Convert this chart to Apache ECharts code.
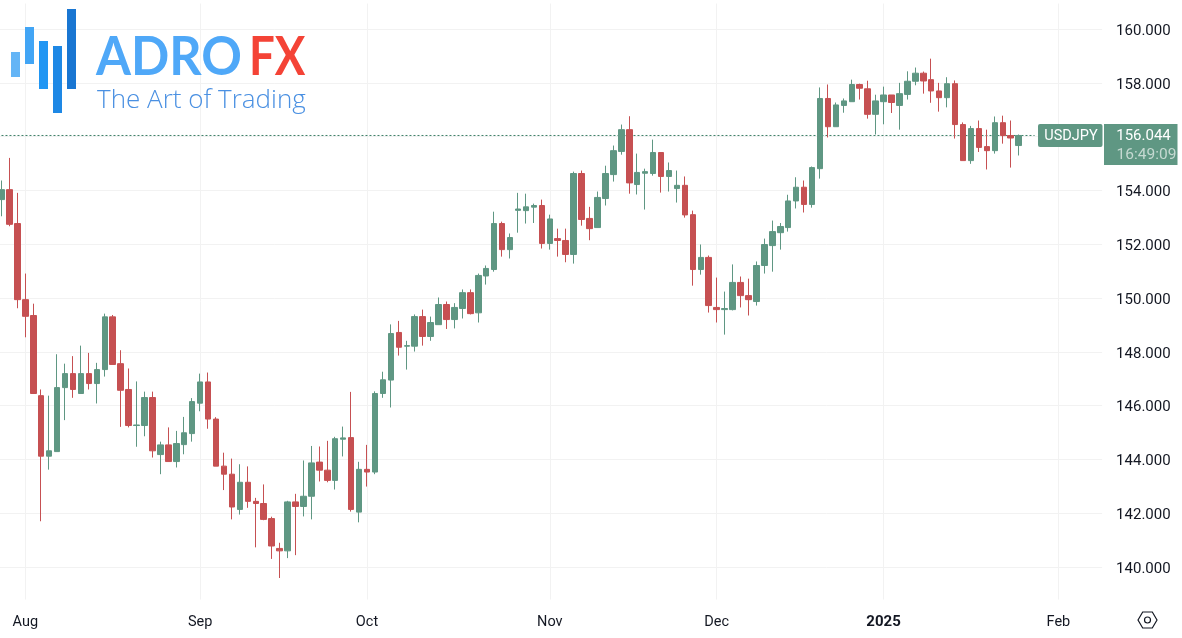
<!DOCTYPE html>
<html>
<head>
<meta charset="utf-8">
<title>USDJPY</title>
<script src="https://cdn.jsdelivr.net/npm/echarts@6/dist/echarts.min.js"></script>
<style>
    html, body { margin: 0; padding: 0; background: #fff; }
    #chart { width: 1182px; height: 638px; }
</style>
</head>
<body>
<div id="chart"></div>
<script>
// Daily candles, 29 Jul 2024 to 27 Jan 2025
const opens = [
    153.66,154.03,152.77,149.94,149.35,146.37,144.12,144.29,146.67,147.19,
    146.45,147.19,146.82,147.34,149.30,147.56,146.60,145.26,145.26,146.30,
    144.18,144.54,143.92,144.55,144.96,146.09,146.88,145.50,143.75,143.45,
    142.14,143.15,142.44,142.36,141.80,140.69,140.60,142.42,142.25,142.63,
    143.90,143.60,143.22,144.75,144.81,142.04,143.63,143.53,146.45,146.95,
    148.72,148.21,148.21,149.31,148.57,149.01,149.76,149.20,149.61,150.20,
    149.45,150.82,151.06,152.77,151.80,153.26,153.25,153.38,153.44,152.03,
    152.21,152.14,151.62,154.63,152.96,152.62,153.70,154.59,155.45,156.26,
    154.22,154.64,154.63,155.41,154.52,154.07,154.19,153.10,151.06,151.51,
    149.65,149.57,149.57,150.58,150.09,149.87,151.21,151.95,152.43,152.62,
    153.61,154.12,153.48,154.81,157.42,156.37,157.16,157.30,157.94,157.78,
    156.83,157.30,157.55,157.16,157.57,158.06,158.36,158.12,157.70,157.45,
    157.97,156.45,155.11,156.30,155.63,155.48,156.52,156.04,155.67
];
const closes = [
    154.03,152.74,149.94,149.32,146.45,144.12,144.32,146.67,147.19,146.60,
    147.19,146.82,147.34,149.30,147.53,146.57,145.26,145.28,146.30,144.32,
    144.54,143.92,144.59,144.99,146.15,146.88,145.50,143.75,143.45,142.23,
    143.15,142.44,142.36,141.77,140.78,140.60,142.42,142.25,142.63,143.87,
    143.60,143.22,144.77,144.80,142.14,143.63,143.53,146.45,146.96,148.68,
    148.17,148.23,149.31,148.57,149.09,149.76,149.20,149.65,150.20,149.42,
    150.84,151.10,152.77,151.80,152.25,153.31,153.39,153.44,152.03,152.94,
    152.14,151.62,154.63,152.92,152.58,153.74,154.63,155.48,156.26,154.28,
    154.67,154.70,155.41,154.52,154.74,154.19,153.09,151.06,151.51,149.72,
    149.57,149.61,150.58,150.09,149.94,151.21,151.99,152.47,152.66,153.61,
    154.12,153.48,154.85,157.42,156.37,157.18,157.33,157.94,157.80,156.83,
    157.33,157.55,157.27,157.60,158.06,158.36,158.07,157.70,157.45,157.97,
    156.45,155.11,156.30,155.60,155.48,156.52,156.04,155.95,156.044
];
const lows = [
    153.04,152.67,149.62,148.54,146.45,141.70,143.62,144.29,145.46,146.29,
    146.45,146.60,146.08,147.08,147.53,145.21,145.19,144.47,144.86,144.07,
    143.45,143.92,143.70,144.19,144.66,145.79,145.14,143.75,142.86,141.77,
    141.95,142.20,140.73,141.74,140.30,139.59,140.33,140.44,141.88,141.77,
    143.18,143.15,142.88,144.11,142.06,141.66,142.99,143.45,146.29,145.93,
    147.86,147.34,148.01,148.23,148.41,149.01,148.85,148.87,149.24,149.39,
    149.09,150.50,150.98,151.54,151.47,152.43,152.77,152.79,151.84,151.80,
    151.54,151.33,151.28,152.69,152.15,152.62,153.44,154.33,155.33,153.88,
    153.85,153.29,154.55,153.92,153.96,153.55,152.99,150.46,150.87,149.46,
    149.09,148.64,149.54,149.65,149.35,149.72,150.91,150.98,151.80,152.47,
    153.33,153.18,153.36,154.44,155.97,156.37,156.89,157.30,157.38,156.67,
    156.08,156.46,156.88,156.26,157.38,157.91,157.60,157.26,156.93,157.09,
    155.93,155.11,154.99,155.43,154.78,155.37,155.74,154.85,155.30
];
const highs = [
    154.37,155.21,153.91,150.91,149.79,146.60,146.37,147.91,147.56,147.84,
    148.23,147.96,147.59,149.42,149.37,148.06,147.38,146.90,146.52,146.52,
    144.66,145.19,145.06,145.58,146.28,147.19,147.23,145.57,144.25,144.03,
    143.82,143.74,142.57,143.07,141.87,140.90,142.46,142.72,143.96,144.50,
    144.48,144.69,144.84,145.22,146.51,143.91,144.54,146.53,147.26,149.02,
    149.15,148.41,149.39,149.57,149.31,150.02,149.87,149.81,150.32,150.32,
    150.91,151.21,153.21,152.84,152.40,153.91,153.88,153.51,153.66,153.10,
    152.58,152.58,154.70,154.74,153.39,153.96,154.92,155.67,156.45,156.76,
    155.37,154.81,155.89,155.41,155.04,154.74,154.52,153.25,151.99,151.58,
    150.76,150.24,151.25,150.80,150.72,151.36,152.21,152.88,152.79,153.84,
    154.49,154.37,154.89,157.83,157.94,157.27,157.42,158.12,157.97,158.08,
    157.56,157.86,157.55,158.00,158.43,158.57,158.42,158.90,158.00,158.21,
    158.09,156.53,156.40,156.60,156.26,156.75,156.78,156.60,156.08
];
const lastPrice = 156.044;
const lastLineEnds = [0, 130]; // slots the dotted last price line runs between

// Axis labels
const priceTicks = [140,142,144,146,148,150,152,154,156,158,160];
const tickIndexes = [3,25,46,69,90,111,133];
const tickLabels = ['Aug','Sep','Oct','Nov','Dec','2025','Feb'];
const slotCount = 139; // candles plus the empty days on the right

const green = '#5f9783';
const red = '#c65052';
const textColor = '#131722';
const gridColor = '#f2f2f2';
const fontName = 'Roboto, sans-serif';

const categories = Array.from({ length: slotCount }, (_, i) => {
    const k = tickIndexes.indexOf(i);
    return k >= 0 ? tickLabels[k] : '';
});
const candles = opens.map((o, i) => [o, closes[i], lows[i], highs[i]]);

const chart = echarts.init(document.getElementById('chart'));

const option = {
    animation: false,
    backgroundColor: '#fff',
    grid: { left: -2.5, top: 3.53, width: 1104.6, height: 596, outerBoundsMode: 'none' },
    xAxis: {
        type: 'category',
        data: categories,
        axisLine: { show: false },
        axisTick: { show: false },
        axisLabel: {
            interval: 0,
            margin: 15,
            color: textColor,
            fontFamily: fontName,
            fontSize: 14.5,
            formatter: v => (v === '2025' ? '{b|2025}' : v),
            rich: { b: { fontWeight: 'bold', color: textColor, fontFamily: fontName, fontSize: 15 } }
        },
        splitLine: {
            show: true,
            alignWithLabel: true,
            interval: i => categories[i] !== '',
            lineStyle: { color: gridColor, width: 1 }
        }
    },
    yAxis: {
        type: 'value',
        position: 'right',
        min: 138.79,
        max: 160.95,
        scale: true,
        axisLine: { show: false },
        axisTick: { show: false, customValues: priceTicks },
        axisLabel: {
            customValues: priceTicks,
            margin: 14,
            formatter: v => '{p|' + v.toFixed(3) + '}',
            rich: { p: { color: textColor, fontFamily: fontName, fontSize: 15, padding: [4, 0, 0, 0] } }
        },
        splitLine: { show: true, lineStyle: { color: gridColor, width: 1 } }
    },
    series: [
        {
            type: 'line',
            data: lastLineEnds.map(i => [i, lastPrice]),
            showSymbol: false,
            silent: true,
            z: 1,
            itemStyle: { color: '#3f8069' },
            lineStyle: { color: '#3f8069', type: [2, 2], width: 1 }
        },
        {
            type: 'candlestick',
            data: candles,
            barWidth: 6,
            clip: false,
            z: 2,
            itemStyle: {
                color: green,
                color0: red,
                borderColor: green,
                borderColor0: red,
                borderWidth: 1
            }
        }
    ],
    graphic: [
        // logo
        { type: 'rect', z: 50, shape: { x: 11, y: 52, width: 9, height: 25 }, style: { fill: '#64b5f6' } },
        { type: 'rect', z: 50, shape: { x: 25, y: 27, width: 9, height: 37 }, style: { fill: '#42a5f5' } },
        { type: 'rect', z: 50, shape: { x: 39, y: 41, width: 9, height: 48 }, style: { fill: '#2196f3' } },
        { type: 'rect', z: 50, shape: { x: 53, y: 46, width: 9, height: 67 }, style: { fill: '#1e88e5' } },
        { type: 'rect', z: 50, shape: { x: 67, y: 9, width: 9, height: 80 }, style: { fill: '#1976d2' } },
        { type: 'text', z: 50, x: 96, y: 58, scaleX: 0.95, style: { text: 'ADRO', fill: '#4fa8f8', font: 'bold 53px Lato, sans-serif', textVerticalAlign: 'middle' } },
        { type: 'text', z: 50, x: 249, y: 58, scaleX: 0.86, style: { text: 'FX', fill: '#f44336', font: 'bold 53px Lato, sans-serif', textVerticalAlign: 'middle' } },
        { type: 'text', z: 50, x: 97, y: 101, style: { text: 'The Art of Trading', fill: '#4a90e2', font: '300 26px "Open Sans", sans-serif', textVerticalAlign: 'middle' } },
        // last price tags
        { type: 'rect', z: 50, shape: { x: 1038, y: 124, width: 64.5, height: 23, r: 2 }, style: { fill: green } },
        { type: 'rect', z: 50, shape: { x: 1104, y: 124, width: 73.5, height: 41 }, style: { fill: green } },
        { type: 'text', z: 51, x: 1071, y: 136, style: { text: 'USDJPY', fill: '#fff', font: '14.5px Roboto, sans-serif', textAlign: 'center', textVerticalAlign: 'middle' } },
        { type: 'text', z: 51, x: 1143.5, y: 136, style: { text: '156.044', fill: '#fff', font: '15px Roboto, sans-serif', textAlign: 'center', textVerticalAlign: 'middle' } },
        { type: 'text', z: 51, x: 1146.5, y: 155, style: { text: '16:49:09', fill: '#c5d9d1', font: '15.5px Roboto, sans-serif', textAlign: 'center', textVerticalAlign: 'middle' } },
        // settings hexagon
        { type: 'polygon', z: 50, shape: { points: [[1138,620],[1142.7,612],[1152.3,612],[1157,620],[1152.3,628],[1142.7,628]] }, style: { fill: 'none', stroke: textColor, lineWidth: 1.2 } },
        { type: 'circle', z: 50, shape: { cx: 1147.5, cy: 620, r: 3 }, style: { fill: 'none', stroke: textColor, lineWidth: 1.2 } }
    ]
};

chart.setOption(option);
window.addEventListener('resize', () => chart.resize());
</script>
</body>
</html>
